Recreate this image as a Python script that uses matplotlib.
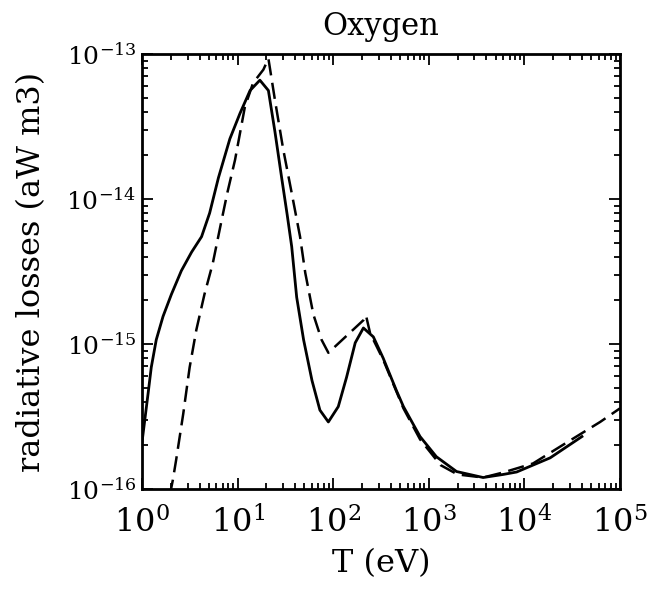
import matplotlib.pyplot as plt
from matplotlib.ticker import LogLocator, NullFormatter

plt.rcParams['font.family'] = 'DejaVu Serif'
plt.rcParams['mathtext.fontset'] = 'dejavuserif'

# solid curve (T in eV, radiative losses)
T_solid = [1.0, 1.07, 1.16, 1.25, 1.41, 1.66, 2.03, 2.58, 3.3, 4.2, 5.1, 6.3, 8.3,
           10.6, 13.5, 17.1, 21, 24.6, 28.9, 33, 36.8, 41.5, 49, 60, 72.6, 89,
           113, 138, 170, 207, 263, 333, 457, 543, 810, 1200, 1950, 3700, 6000,
           8300, 18600, 40000]
L_solid = [2.1e-16, 3.0e-16, 4.6e-16, 6.9e-16, 1.07e-15, 1.55e-15, 2.2e-15, 3.2e-15,
           4.3e-15, 5.5e-15, 8.0e-15, 1.4e-14, 2.6e-14, 3.9e-14, 5.6e-14, 6.6e-14,
           5.6e-14, 2.9e-14, 1.4e-14, 7.8e-15, 4.7e-15, 2.1e-15, 1.07e-15, 5.6e-16,
           3.5e-16, 2.9e-16, 3.7e-16, 5.9e-16, 1.02e-15, 1.29e-15, 1.12e-15,
           8.0e-16, 4.8e-16, 3.7e-16, 2.3e-16, 1.67e-16, 1.32e-16, 1.2e-16,
           1.26e-16, 1.31e-16, 1.64e-16, 2.3e-16]

# dashed curve
T_dash = [1.95, 2.1, 2.28, 2.7, 3.15, 3.7, 4.5, 5.5, 6.7, 7.8, 9.4, 11.9, 14.5,
          18.6, 21, 24.6, 30, 36.8, 45, 51, 62, 75.5, 89, 207, 220, 243, 333,
          543, 810, 1330, 2000, 3700, 6000, 12300, 28000, 62000, 100000]
L_dash = [9.0e-17, 1.15e-16, 1.6e-16, 3.3e-16, 6.9e-16, 1.25e-15, 2.2e-15, 3.6e-15,
          6.8e-15, 1.1e-14, 1.86e-14, 4.3e-14, 6.3e-14, 7.8e-14, 9.3e-14, 4.8e-14,
          2.2e-14, 1.1e-14, 5.5e-15, 3.1e-15, 1.6e-15, 1.07e-15, 8.7e-16,
          1.46e-15, 1.58e-15, 1.19e-15, 7.8e-16, 3.6e-16, 2.2e-16, 1.46e-16,
          1.26e-16, 1.2e-16, 1.3e-16, 1.5e-16, 2.1e-16, 2.9e-16, 3.6e-16]

x_ticks = [1e0, 1e1, 1e2, 1e3, 1e4, 1e5]
y_ticks = [1e-16, 1e-15, 1e-14, 1e-13]

fig = plt.figure(figsize=(6.53, 5.90), dpi=100)
ax = fig.add_axes([142/653, 1-489/590, 478/653, 435/590])

ax.plot(T_solid, L_solid, color='black', lw=2.0)
ax.plot(T_dash, L_dash, color='black', lw=1.8, ls=(0, (6.5, 3)))

ax.set_xscale('log')
ax.set_yscale('log')
ax.set_xlim(1, 1e5)
ax.set_ylim(1e-16, 1e-13)

ax.set_xticks(x_ticks)
ax.set_yticks(y_ticks)
ax.xaxis.set_minor_locator(LogLocator(base=10, subs=range(2, 10), numticks=20))
ax.xaxis.set_minor_formatter(NullFormatter())
ax.yaxis.set_minor_formatter(NullFormatter())
ax.tick_params(which='both', direction='in', top=True, right=True, width=1.3)
ax.tick_params(which='major', length=8)
ax.tick_params(which='minor', length=4)
ax.tick_params(axis='x', labelsize=23, pad=13)
ax.tick_params(axis='y', labelsize=18, pad=4)
for s in ax.spines.values():
    s.set_linewidth(2)

ax.set_title('Oxygen', fontsize=22, pad=14)
ax.set_xlabel('T (eV)', fontsize=23, labelpad=6)
ax.set_ylabel('radiative losses (aW m3)', fontsize=23, labelpad=14)

plt.savefig('out.png', dpi=100)
